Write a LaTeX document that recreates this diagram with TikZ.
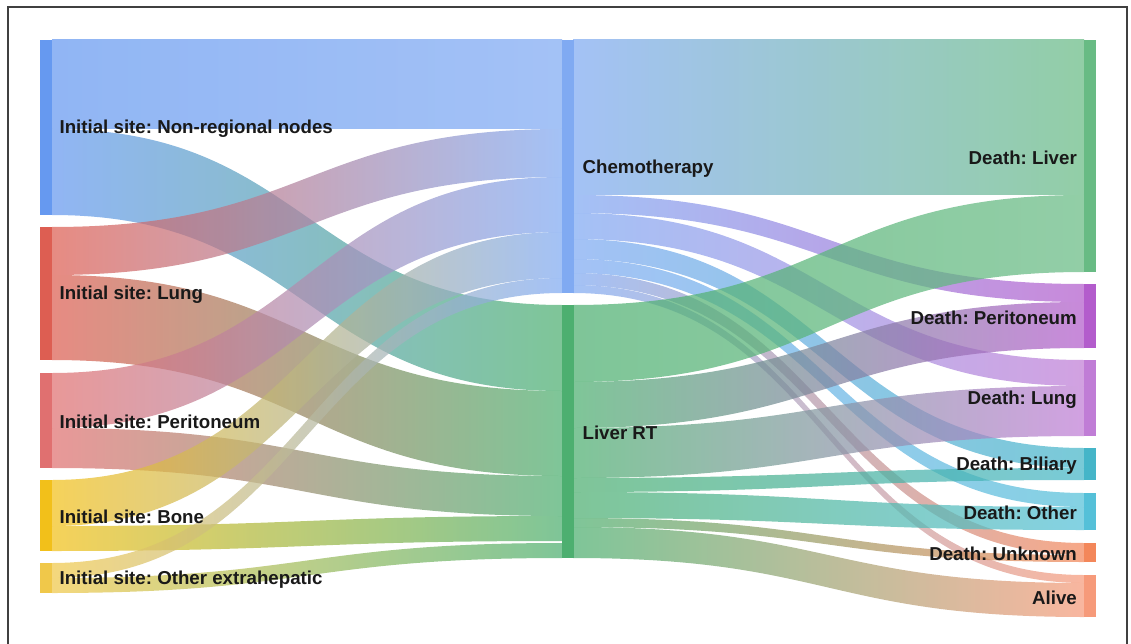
\documentclass[tikz,border=0pt]{standalone}
\usepackage{fontspec}
\setmainfont{Liberation Sans}
\usepackage{xcolor}
\usepackage{tikz}
\usetikzlibrary{positioning}
\frenchspacing

\definecolor{cNR}{HTML}{6699F0}
\definecolor{cLung}{HTML}{DD5E52}
\definecolor{cPer}{HTML}{E07070}
\definecolor{cBone}{HTML}{F2C01A}
\definecolor{cOth}{HTML}{F0C84A}
\definecolor{cChemo}{HTML}{80AAF2}
\definecolor{cRT}{HTML}{4DAF70}
\definecolor{dLiver}{HTML}{68BB84}
\definecolor{dPer}{HTML}{B35CCC}
\definecolor{dLung}{HTML}{C07DD6}
\definecolor{dBil}{HTML}{45B5C8}
\definecolor{dOth}{HTML}{55C0D8}
\definecolor{dUnk}{HTML}{F3875A}
\definecolor{dAlive}{HTML}{F69A7A}

\begin{document}
\begin{tikzpicture}[x=1pt, y=-1pt,
    bar/.style={inner sep=0pt, minimum width=12pt},
    lbl/.style={font=\fontsize{18.7}{20}\selectfont\bfseries, text=black!90, inner sep=0pt, yshift=-1.5pt},
    band/.style={fill opacity=0.72}]
  \useasboundingbox (0,0) rectangle (1131,644);
  \clip (0,0) rectangle (1131,644);
  \draw[line width=1.1pt, black!75] (8,7) rectangle (1127,660);

  % first stage: initial site -> treatment
  \foreach \ya/\yb/\za/\zb/\cs/\ct in {40/129/40/129/cNR/cChemo, 129/215/305/391/cNR/cRT,
      227/275/129/177/cLung/cChemo, 275/360/391/476/cLung/cRT,
      373/428/177/232/cPer/cChemo, 428/468/476/516/cPer/cRT,
      480/526/232/278/cBone/cChemo, 526/551/516/541/cBone/cRT,
      563/578/278/293/cOth/cChemo, 578/593/543/558/cOth/cRT} {
    \shade[band, left color=\cs, right color=\ct] (52,\ya) .. controls (307,\ya) and (307,\za) .. (562,\za)
      -- (562,\zb) .. controls (307,\zb) and (307,\yb) .. (52,\yb) -- cycle;
  }

  % second stage: treatment -> outcome
  \foreach \ya/\yb/\za/\zb/\cs/\ct in {40/195/40/195/cChemo/dLiver, 195/213/284/302/cChemo/dPer,
      213/239/360/386/cChemo/dLung, 239/259/448/468/cChemo/dBil,
      259/273/493/507/cChemo/dOth, 273/285/543/555/cChemo/dUnk, 285/293/575/583/cChemo/dAlive,
      305/382/195/272/cRT/dLiver, 382/428/302/348/cRT/dPer, 428/478/386/436/cRT/dLung,
      478/492/468/480/cRT/dBil, 492/518/507/530/cRT/dOth, 518/527/555/562/cRT/dUnk,
      527/558/583/617/cRT/dAlive} {
    \shade[band, left color=\cs, right color=\ct] (573,\ya) .. controls (828,\ya) and (828,\za) .. (1084,\za)
      -- (1084,\zb) .. controls (828,\zb) and (828,\yb) .. (573,\yb) -- cycle;
  }

  % node bars
  \foreach \n/\x/\y/\h/\c in {nr/40/40/175/cNR, lung/40/227/133/cLung, per/40/373/95/cPer,
      bone/40/480/71/cBone, oth/40/563/30/cOth,
      chemo/562/40/253/cChemo, rt/562/305/253/cRT,
      dliver/1084/40/232/dLiver, dper/1084/284/64/dPer, dlung/1084/360/76/dLung,
      dbil/1084/448/32/dBil, doth/1084/493/37/dOth, dunk/1084/543/19/dUnk, alive/1084/575/42/dAlive} {
    \node[bar, fill=\c, minimum height={\h pt}, anchor=north west] (\n) at (\x,\y) {};
  }

  % labels
  \node[lbl, right=7pt of nr] (nrlab) {Initial site: Non-regional nodes};
  \node[lbl, right=7pt of lung] (lunglab) {Initial site: Lung};
  \node[lbl, right=7pt of per] (perlab) {Initial site: Peritoneum};
  \node[lbl, right=7pt of bone] (bonelab) {Initial site: Bone};
  \node[lbl, right=7pt of oth] (othlab) {Initial site: Other extrahepatic};
  \node[lbl, right=8pt of chemo] (chemolab) {Chemotherapy};
  \node[lbl, right=8pt of rt] (rtlab) {Liver RT};
  \node[lbl, left=7pt of dliver] (dliverlab) {Death: Liver};
  \node[lbl, left=7pt of dper] (dperlab) {Death: Peritoneum};
  \node[lbl, left=7pt of dlung] (dlunglab) {Death: Lung};
  \node[lbl, left=7pt of dbil] (dbillab) {Death: Biliary};
  \node[lbl, left=7pt of doth] (dothlab) {Death: Other};
  \node[lbl, left=7pt of dunk] (dunklab) {Death: Unknown};
  \node[lbl, left=7pt of alive] (alivelab) {Alive};
\end{tikzpicture}
\end{document}
